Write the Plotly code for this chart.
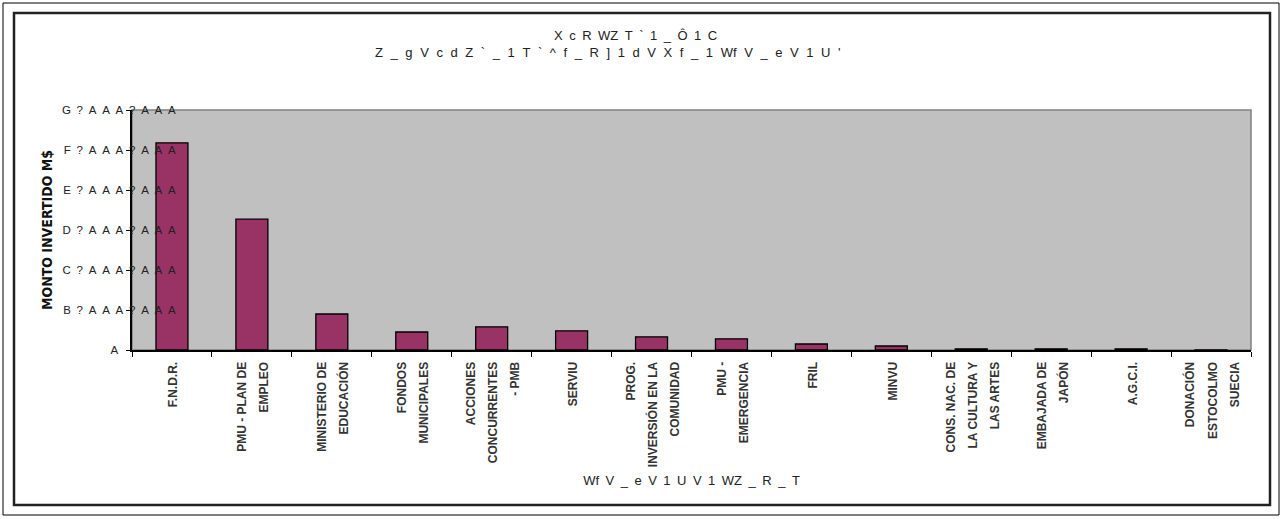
import plotly.graph_objects as go

# ---------------- data ----------------
category_lines = [
    ["F.N.D.R."],
    ["PMU - PLAN DE", "EMPLEO"],
    ["MINISTERIO DE", "EDUCACIÓN"],
    ["FONDOS", "MUNICIPALES"],
    ["ACCIONES", "CONCURRENTES", "- PMB"],
    ["SERVIU"],
    ["PROG.", "INVERSIÓN EN LA", "COMUNIDAD"],
    ["PMU -", "EMERGENCIA"],
    ["FRIL"],
    ["MINVU"],
    ["CONS. NAC. DE", "LA CULTURA Y", "LAS ARTES"],
    ["EMBAJADA DE", "JAPÓN"],
    ["A.G.C.I."],
    ["DONACIÓN", "ESTOCOLMO", "SUECIA"],
]
values = [5180000, 3270000, 900000, 450000, 580000, 480000, 330000,
          280000, 150000, 100000, 30000, 30000, 30000, 5000]

ytick_vals = [0, 1000000, 2000000, 3000000, 4000000, 5000000, 6000000]
ytick_text = ["A", "B?AAA?AAA", "C?AAA?AAA", "D?AAA?AAA",
              "E?AAA?AAA", "F?AAA?AAA", "G?AAA?AAA"]

title_line1 = "X c R WZ T ` 1 _ Ô 1 C"
title_line2 = "Z _ g V c d Z ` _ 1 T ` ^ f _ R ] 1 d V X f _ 1 Wf V _ e V 1 U '"
x_title = "Wf V _ e V 1 U V 1 WZ _ R _ T"
y_title = "MONTO INVERTIDO M$"

# ---------------- layout helpers ----------------
W, H = 1282, 519
L, R, T, B = 132, 1251, 110, 350   # plot area in pixels


def px(x):
    return (x - L) / (R - L)


def py(y):
    return (B - y) / (B - T)


def spaced(s):
    return "\u2002".join(list(s))


def wide(s, extra=""):
    return s.replace(" ", "\u2002" + extra)


categories = [" ".join(lines) for lines in category_lines]
cat_text = ["<br>".join("<span style='font-size:12px'>%s</span>" % ln for ln in lines)
            for lines in category_lines]
tick_text = [spaced(t) for t in ytick_text]
tick_text[0] = tick_text[0] + "\u2002" * 10

fig = go.Figure()
fig.add_trace(go.Bar(
    x=categories, y=values,
    marker=dict(color="#993366", line=dict(color="#000000", width=1.3)),
    width=0.4,
))

fig.update_layout(
    width=W, height=H,
    margin=dict(l=L, r=W - R, t=T, b=H - B, pad=0),
    paper_bgcolor="white",
    plot_bgcolor="#C0C0C0",
    showlegend=False,
    font=dict(family="Liberation Sans, Arial, sans-serif", color="#222"),
)

fig.update_xaxes(
    type="category",
    tickson="boundaries",
    tickvals=categories, ticktext=cat_text,
    ticks="outside", ticklen=5, tickwidth=1.3, tickcolor="#000",
    showline=True, linecolor="#000", linewidth=2,
    showgrid=False, zeroline=False,
    tickangle=-90,
    ticklabelstandoff=3,
    tickfont=dict(family="Liberation Sans, Arial", size=17, color="#333",
                  weight="bold"),
    title=dict(text=wide(x_title), font=dict(size=13, color="#222"), standoff=10),
)
fig.update_yaxes(
    range=[0, 6000000],
    tickvals=ytick_vals, ticktext=tick_text,
    ticks="outside", ticklen=4, tickwidth=1.3, tickcolor="#000",
    ticklabelstandoff=-52,
    showline=True, linecolor="#000", linewidth=2,
    showgrid=False, zeroline=False,
    tickfont=dict(size=11.5, color="#222"),
    title=dict(text=y_title,
               font=dict(family="DejaVu Sans Condensed, Liberation Sans Narrow, Arial",
                         size=14, color="#111", weight="bold"),
               standoff=6),
)

# plot-area border (gray top/right)
fig.add_shape(type="rect", xref="paper", yref="paper", x0=0, x1=1, y0=0, y1=1,
              line=dict(color="#808080", width=1.5), layer="below")
# inner chart box
fig.add_shape(type="rect", xref="paper", yref="paper",
              x0=px(14), x1=px(1270), y0=py(505), y1=py(13),
              line=dict(color="#222", width=2.5))
# outer frame
fig.add_shape(type="rect", xref="paper", yref="paper",
              x0=px(3), x1=px(1279), y0=py(515), y1=py(3),
              line=dict(color="#000", width=1))

fig.add_annotation(text=wide(title_line1), xref="paper", yref="paper",
                   x=px(635), y=py(35), xanchor="center", yanchor="middle",
                   showarrow=False, font=dict(size=13, color="#222"))
fig.add_annotation(text=wide(title_line2, "\u200a"), xref="paper", yref="paper",
                   x=px(608), y=py(53), xanchor="center", yanchor="middle",
                   showarrow=False, font=dict(size=13, color="#222"))

fig.write_html("out.html",
               config={"displayModeBar": False},
               post_script="document.body.style.margin='0';document.body.style.overflow='hidden';")
